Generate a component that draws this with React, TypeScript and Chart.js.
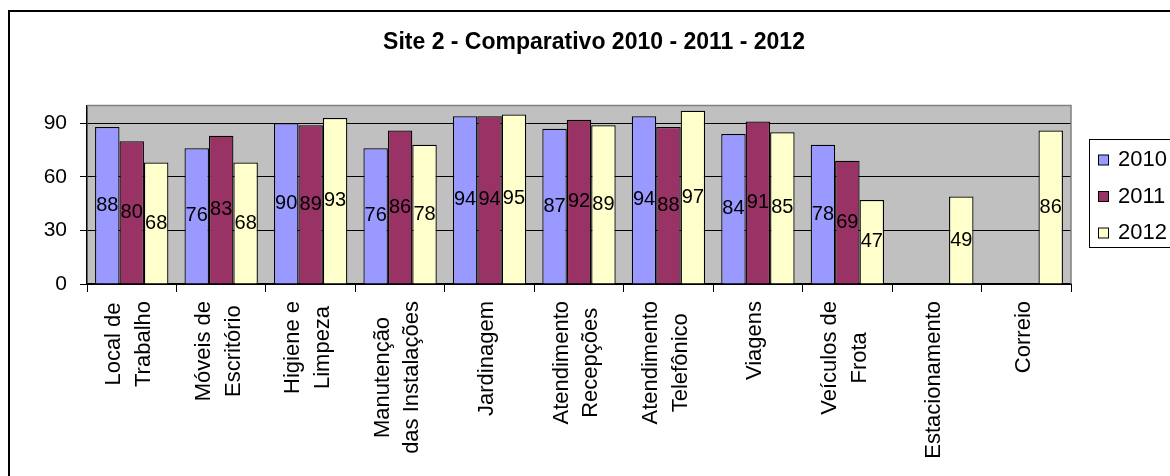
import React, { useEffect, useRef } from "react";
import { Chart, registerables } from "chart.js";

Chart.register(...registerables);

const FAMILY = "'Liberation Sans', Arial, Helvetica, sans-serif";

const TITLE = "Site 2 - Comparativo 2010 - 2011 - 2012";

const categories: string[][] = [
  ["Local de", "Trabalho"],
  ["Móveis de", "Escritório"],
  ["Higiene e", "Limpeza"],
  ["Manutenção", "das Instalações"],
  ["Jardinagem"],
  ["Atendimento", "Recepções"],
  ["Atendimento", "Telefônico"],
  ["Viagens"],
  ["Veículos de", "Frota"],
  ["Estacionamento"],
  ["Correio"],
];

const seriesNames = ["2010", "2011", "2012"];

const values2010: (number | null)[] = [88, 76, 90, 76, 94, 87, 94, 84, 78, null, null];
const values2011: (number | null)[] = [80, 83, 89, 86, 94, 92, 88, 91, 69, null, null];
const values2012: (number | null)[] = [68, 68, 93, 78, 95, 89, 97, 85, 47, 49, 86];

const seriesColors = ["#9999FF", "#993366", "#FFFFCC"];

const yTicks = [0, 30, 60, 90];
const yMax = 100;

// Plot background, frame, title, legend, category labels and value labels
const decorations = {
  id: "decorations",
  beforeDraw(chart: Chart) {
    const { ctx, chartArea: a, width, height } = chart;
    ctx.save();
    ctx.fillStyle = "#FFFFFF";
    ctx.fillRect(0, 0, width, height);
    ctx.fillStyle = "#C0C0C0";
    ctx.fillRect(a.left, a.top, a.right - a.left, a.bottom - a.top);
    ctx.restore();
  },
  afterDraw(chart: Chart) {
    const { ctx, chartArea: a } = chart;
    ctx.save();

    // plot area top/right edge
    ctx.strokeStyle = "#808080";
    ctx.lineWidth = 1.5;
    ctx.beginPath();
    ctx.moveTo(a.left, a.top);
    ctx.lineTo(a.right, a.top);
    ctx.lineTo(a.right, a.bottom);
    ctx.stroke();

    // outer chart frame
    ctx.strokeStyle = "#000";
    ctx.lineWidth = 2;
    ctx.strokeRect(9, 11, 1400, 700);

    // title
    ctx.fillStyle = "#000";
    ctx.font = `bold 23px ${FAMILY}`;
    ctx.textAlign = "center";
    ctx.textBaseline = "alphabetic";
    ctx.fillText(TITLE, 594, 48.5);

    // category labels, rotated; block starts under the axis, lines centred on each other
    const xs = chart.scales.x;
    ctx.font = `22px ${FAMILY}`;
    const labels = chart.data.labels as string[][];
    const labelTop = 301;
    labels.forEach((lines, i) => {
      const px = xs.getPixelForValue(i);
      const n = lines.length;
      const widest = Math.max(...lines.map((ln) => ctx.measureText(ln).width));
      lines.forEach((ln, j) => {
        const cx = px - 2.5 + (j - (n - 1) / 2) * 29.6;
        ctx.save();
        ctx.translate(cx, labelTop + widest / 2);
        ctx.rotate(-Math.PI / 2);
        ctx.textAlign = "center";
        ctx.textBaseline = "middle";
        ctx.fillText(ln, 0, 0);
        ctx.restore();
      });
    });

    // value labels in the middle of each bar
    ctx.font = `20px ${FAMILY}`;
    ctx.textAlign = "center";
    ctx.textBaseline = "middle";
    chart.data.datasets.forEach((ds, di) => {
      const meta = chart.getDatasetMeta(di);
      meta.data.forEach((el: any, i: number) => {
        const v = ds.data[i] as number | null;
        if (v === null || v === undefined) return;
        ctx.fillText(String(v), el.x, (el.y + el.base) / 2);
      });
    });

    // legend
    const lx = 1089.5;
    const ly = 139.5;
    ctx.fillStyle = "#FFFFFF";
    ctx.fillRect(lx, ly, 200, 108);
    ctx.strokeStyle = "#000";
    ctx.lineWidth = 1;
    ctx.strokeRect(lx, ly, 200, 108);
    const rowY = [160, 196.5, 233];
    chart.data.datasets.forEach((ds, di) => {
      const cy = rowY[di];
      ctx.fillStyle = ds.backgroundColor as string;
      ctx.fillRect(1098.5, cy - 5, 10, 10);
      ctx.strokeStyle = "#000";
      ctx.strokeRect(1098.5, cy - 5, 10, 10);
      ctx.fillStyle = "#000";
      ctx.font = `22px ${FAMILY}`;
      ctx.textAlign = "left";
      ctx.textBaseline = "middle";
      ctx.fillText(ds.label as string, 1118, cy);
    });

    ctx.restore();
  },
};

export default function App() {
  const canvasRef = useRef<HTMLCanvasElement | null>(null);

  useEffect(() => {
    const canvas = canvasRef.current;
    if (!canvas) return;
    const seriesValues = [values2010, values2011, values2012];
    const chart = new Chart(canvas, {
      type: "bar",
      data: {
        labels: categories,
        datasets: seriesNames.map((name, i) => ({
          label: name,
          data: seriesValues[i],
          backgroundColor: seriesColors[i],
          borderColor: "#000",
          borderWidth: 1.25,
          categoryPercentage: 0.82,
          barPercentage: 1,
        })),
      },
      options: {
        animation: false,
        responsive: false,
        devicePixelRatio: 1,
        layout: { padding: { left: 0, right: 99, top: 105.5, bottom: 0 } },
        plugins: {
          legend: { display: false },
          title: { display: false },
          tooltip: { enabled: false },
        },
        scales: {
          x: {
            offset: true,
            ticks: { display: false },
            grid: {
              display: true,
              drawOnChartArea: false,
              drawTicks: true,
              tickLength: 8,
              color: "#000",
              offset: true,
            },
            border: { color: "#000", width: 2 },
            afterFit: (s: any) => {
              s.height = 192;
            },
          },
          y: {
            min: 0,
            max: yMax,
            afterBuildTicks: (axis: any) => {
              axis.ticks = yTicks.map((v) => ({ value: v }));
            },
            ticks: {
              font: { family: FAMILY, size: 21 },
              color: "#000",
              padding: 13,
            },
            grid: {
              color: "#000",
              lineWidth: 1,
              drawTicks: true,
              tickLength: 7,
            },
            border: { color: "#000", width: 1.5 },
            afterFit: (s: any) => {
              s.width = 87;
            },
          },
        },
      },
      plugins: [decorations],
    });
    return () => chart.destroy();
  }, []);

  return (
    <div style={{ position: "absolute", left: 0, top: 0, width: 1170, height: 476, overflow: "hidden" }}>
      <canvas ref={canvasRef} width={1170} height={476} style={{ display: "block" }} />
    </div>
  );
}
